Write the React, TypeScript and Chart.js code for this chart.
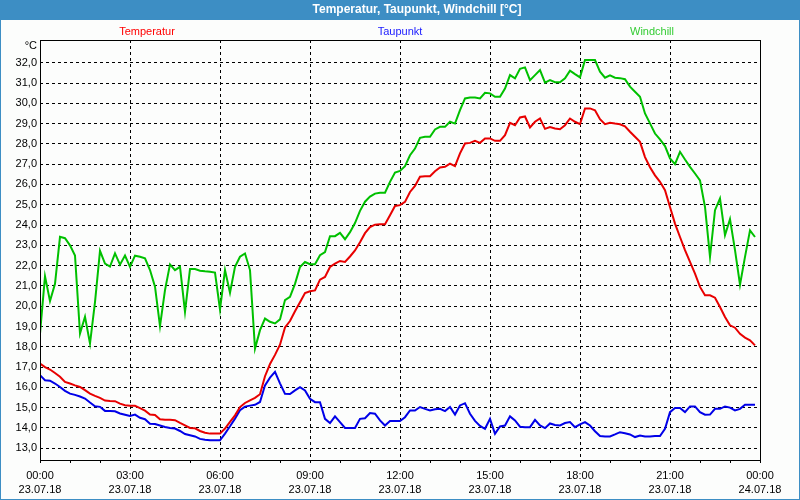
import React, { useEffect, useRef } from 'react';
import { Chart, registerables } from 'chart.js';

Chart.register(...registerables);

// sample times in minutes after 23.07.18 00:00 (10-minute records)
const sampleMinutes: number[] = Array.from({ length: 144 }, (_, i) => i * 10);

const temperatur: number[] = [
  17.17, 17.0, 16.88, 16.71, 16.52, 16.27, 16.19, 16.1, 16.02, 15.86,
  15.69, 15.58, 15.48, 15.35, 15.33, 15.32, 15.2, 15.12, 15.09, 15.09,
  14.98, 14.85, 14.66, 14.64, 14.43, 14.4, 14.4, 14.38, 14.25, 14.13,
  14.0, 13.98, 13.85, 13.76, 13.72, 13.72, 13.72, 13.97, 14.3, 14.62,
  15.03, 15.23, 15.36, 15.48, 15.66, 16.55, 17.15, 17.6, 18.1, 18.95,
  19.27, 19.75, 20.2, 20.65, 20.74, 20.78, 21.31, 21.44, 21.93, 22.1,
  22.23, 22.18, 22.45, 22.75, 23.15, 23.6, 23.9, 24.02, 24.04, 24.04,
  24.48, 24.94, 24.98, 25.14, 25.63, 25.93, 26.38, 26.41, 26.41, 26.65,
  26.84, 26.87, 27.03, 26.9, 27.53, 28.02, 28.05, 28.15, 28.05, 28.27,
  28.27, 28.15, 28.15, 28.43, 29.04, 28.92, 29.3, 29.35, 28.81, 29.09,
  29.25, 28.74, 28.83, 28.76, 28.72, 28.92, 29.25, 29.09, 28.97, 29.75,
  29.75, 29.66, 29.22, 28.97, 29.04, 29.0, 28.97, 28.87, 28.6, 28.35,
  28.1, 27.35, 26.85, 26.45, 26.13, 25.72, 24.89, 24.07, 23.41, 22.76,
  22.18, 21.61, 20.95, 20.54, 20.54, 20.42, 19.96, 19.47, 19.06, 18.94,
  18.64, 18.45, 18.32, 18.07,
];

const taupunkt: number[] = [
  16.6, 16.35, 16.33, 16.19, 16.02, 15.83, 15.69, 15.63, 15.55, 15.45,
  15.25, 15.07, 15.04, 14.84, 14.83, 14.82, 14.71, 14.65, 14.59, 14.66,
  14.5, 14.43, 14.21, 14.19, 14.12, 14.05, 14.0, 13.97, 13.85, 13.7,
  13.64, 13.58, 13.46, 13.42, 13.39, 13.39, 13.39, 13.72, 14.08, 14.46,
  14.87, 15.05, 15.1, 15.14, 15.28, 16.1, 16.48, 16.76, 16.2, 15.68,
  15.67, 15.85, 16.01, 15.85, 15.44, 15.27, 15.27, 14.45, 14.24, 14.57,
  14.29, 14.0, 14.0, 14.0, 14.45, 14.48, 14.73, 14.7, 14.37, 14.12,
  14.34, 14.34, 14.34, 14.53, 14.86, 14.86, 15.03, 14.94, 14.86, 14.92,
  14.94, 14.83, 15.03, 14.66, 15.11, 15.22, 14.7, 14.35, 14.1, 13.96,
  14.45, 13.71, 14.07, 14.12, 14.57, 14.37, 14.06, 14.04, 14.04, 14.4,
  14.12, 13.99, 14.22, 14.15, 14.12, 14.24, 14.29, 14.04, 14.18, 14.29,
  14.12, 13.84, 13.6, 13.58, 13.58, 13.68, 13.79, 13.74, 13.68, 13.55,
  13.63, 13.58, 13.58, 13.6, 13.6, 13.96, 14.78, 14.98, 14.98, 14.78,
  15.06, 15.06, 14.78, 14.65, 14.66, 14.94, 14.94, 15.06, 15.0, 14.86,
  14.94, 15.14, 15.14, 15.14,
];

const windchill: number[] = [
  18.65, 21.48, 20.25, 21.1, 23.42, 23.35, 23.0, 22.5, 18.65, 19.48,
  18.16, 20.2, 22.73, 22.1, 21.95, 22.6, 22.05, 22.5, 21.94, 22.49,
  22.44, 22.36, 21.78, 20.96, 19.02, 20.79, 22.06, 21.78, 21.94, 19.72,
  21.83, 21.83, 21.75, 21.72, 21.7, 21.66, 19.84, 21.78, 20.66, 21.94,
  22.44, 22.6, 21.78, 17.91, 18.82, 19.39, 19.23, 19.15, 19.35, 20.3,
  20.46, 21.1, 21.93, 22.18, 22.07, 22.07, 22.51, 22.67, 23.45, 23.45,
  23.61, 23.3, 23.65, 24.1, 24.7, 25.15, 25.4, 25.55, 25.59, 25.59,
  26.13, 26.59, 26.67, 26.9, 27.44, 27.77, 28.3, 28.35, 28.35, 28.71,
  28.84, 28.84, 29.09, 29.0, 29.66, 30.24, 30.29, 30.29, 30.24, 30.52,
  30.49, 30.32, 30.32, 30.73, 31.39, 31.23, 31.7, 31.77, 31.14, 31.39,
  31.64, 31.02, 31.14, 31.04, 31.04, 31.23, 31.61, 31.44, 31.28, 32.13,
  32.13, 32.13, 31.56, 31.26, 31.38, 31.26, 31.24, 31.19, 30.82, 30.57,
  30.32, 29.5, 29.01, 28.51, 28.22, 27.89, 27.28, 27.0, 27.61, 27.23,
  26.87, 26.54, 26.2, 24.89, 22.43, 24.73, 25.31, 23.5, 24.29, 22.76,
  21.06, 22.43, 23.74, 23.41,
];

const seriesLabels = ['Temperatur', 'Taupunkt', 'Windchill'];
const lineColors = ['#e80000', '#0000e8', '#00c000'];
const legendColors = ['#ff0000', '#1a1aff', '#33cc33'];

const titleText = 'Temperatur, Taupunkt, Windchill [°C]';
const unitLabel = '°C';

const yTickValues = [13, 14, 15, 16, 17, 18, 19, 20, 21, 22, 23, 24, 25, 26, 27, 28, 29, 30, 31, 32];
const xTickHours = [0, 1, 2, 3, 4, 5, 6, 7, 8, 9, 10, 11, 12, 13, 14, 15, 16, 17, 18, 19, 20, 21, 22, 23, 24];
const xTickTimes = ['00:00', '03:00', '06:00', '09:00', '12:00', '15:00', '18:00', '21:00', '00:00'];
const xTickDates = ['23.07.18', '23.07.18', '23.07.18', '23.07.18', '23.07.18', '23.07.18', '23.07.18', '23.07.18', '24.07.18'];

const FONT = '"Liberation Sans", Arial, sans-serif';

const framePlugin = {
  id: 'frame',
  beforeDraw(chart: any) {
    const { ctx, width, height } = chart;
    ctx.save();
    ctx.fillStyle = '#fcfdfc';
    ctx.fillRect(0, 0, width, height);
    ctx.fillStyle = '#3d8ec4';
    ctx.fillRect(0, 0, width, 20);
    ctx.fillRect(0, 0, 1, height);
    ctx.fillRect(width - 1, 0, 1, height);
    ctx.fillRect(0, height - 1, width, 1);
    ctx.fillStyle = '#ffffff';
    ctx.font = `bold 12px ${FONT}`;
    ctx.textAlign = 'center';
    ctx.textBaseline = 'middle';
    ctx.fillText(titleText, 417, 10);
    ctx.font = `11px ${FONT}`;
    const legendX = [147, 400, 652];
    chart.data.datasets.forEach((ds: any, i: number) => {
      ctx.fillStyle = legendColors[i];
      ctx.fillText(ds.label, legendX[i], 32);
    });
    ctx.fillStyle = '#000000';
    ctx.textAlign = 'right';
    ctx.fillText(unitLabel, 37, 46);
    ctx.restore();
  },
  afterDraw(chart: any) {
    const { ctx, chartArea } = chart;
    ctx.save();
    ctx.strokeStyle = '#000000';
    ctx.lineWidth = 1;
    ctx.setLineDash([]);
    ctx.strokeRect(
      Math.round(chartArea.left) + 0.5,
      Math.round(chartArea.top) + 0.5,
      Math.round(chartArea.right - chartArea.left),
      Math.round(chartArea.bottom - chartArea.top)
    );
    ctx.restore();
  },
};

export default function App() {
  const canvasRef = useRef<HTMLCanvasElement | null>(null);

  useEffect(() => {
    document.body.style.margin = '0';
    const canvas = canvasRef.current;
    if (!canvas) return;
    const series = [temperatur, taupunkt, windchill];
    const chart = new Chart(canvas, {
      type: 'line',
      data: {
        datasets: series.map((vals, i) => ({
          label: seriesLabels[i],
          data: vals.map((v, k) => ({ x: sampleMinutes[k], y: v })),
          borderColor: lineColors[i],
          backgroundColor: lineColors[i],
          borderWidth: 2,
          pointRadius: 0,
          tension: 0,
          fill: false,
        })),
      },
      options: {
        responsive: false,
        animation: false,
        events: [],
        layout: { padding: { top: 40, right: 40, left: 0, bottom: 0 } },
        plugins: {
          legend: { display: false },
          title: { display: false },
          tooltip: { enabled: false },
        },
        scales: {
          x: {
            type: 'linear',
            min: 0,
            max: 1440,
            afterBuildTicks: (scale: any) => {
              scale.ticks = xTickHours.map((h) => ({ value: h * 60 }));
            },
            afterFit: (scale: any) => {
              scale.height = 40;
            },
            grid: {
              color: (c: any) => {
                const v = c.tick ? c.tick.value : 0;
                return v % 180 === 0 && v > 0 && v < 1440 ? '#000000' : 'rgba(0,0,0,0)';
              },
              tickColor: '#000000',
              tickLength: 3,
              lineWidth: 1,
            },
            border: { display: false, dash: [3, 3] },
            ticks: {
              autoSkip: false,
              maxRotation: 0,
              minRotation: 0,
              padding: 5,
              color: '#000000',
              font: { family: FONT, size: 11, lineHeight: 1.36 },
              callback: (value: any) => {
                const v = Number(value);
                if (v % 180 !== 0) return '';
                const idx = v / 180;
                return [xTickTimes[idx], xTickDates[idx]];
              },
            },
          },
          y: {
            type: 'linear',
            min: 12.42,
            max: 33.12,
            afterBuildTicks: (scale: any) => {
              scale.ticks = yTickValues.map((v) => ({ value: v }));
            },
            afterFit: (scale: any) => {
              scale.width = 40;
            },
            grid: {
              color: '#000000',
              lineWidth: 1,
              drawTicks: false,
            },
            border: { display: false, dash: [3, 3] },
            ticks: {
              padding: 3,
              color: '#000000',
              font: { family: FONT, size: 11 },
              callback: (value: any) => Number(value).toFixed(1).replace('.', ','),
            },
          },
        },
      },
      plugins: [framePlugin],
    } as any);
    return () => chart.destroy();
  }, []);

  return (
    <div style={{ position: 'absolute', left: 0, top: 0, width: 800, height: 500 }}>
      <canvas ref={canvasRef} width={800} height={500} style={{ display: 'block', width: 800, height: 500 }} />
    </div>
  );
}
